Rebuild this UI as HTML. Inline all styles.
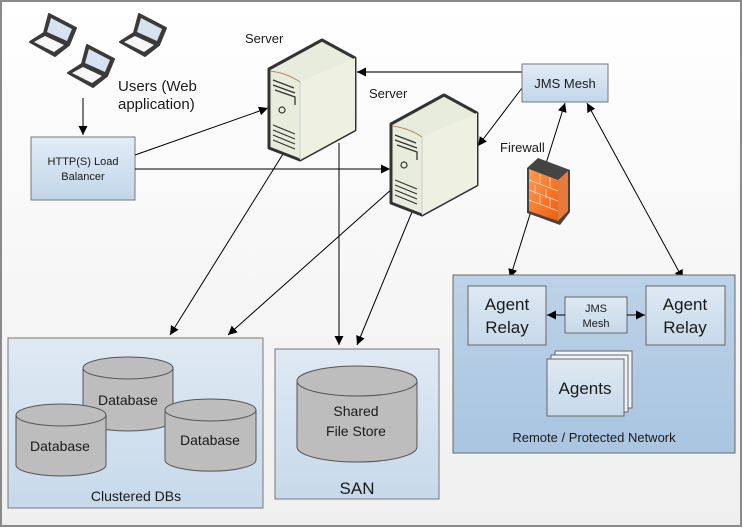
<!DOCTYPE html>
<html><head><meta charset="utf-8"><style>
html,body{margin:0;padding:0;background:#fff}
svg{display:block}
text{font-family:"Liberation Sans",sans-serif;fill:#1a1a1a}
</style></head><body>
<svg width="743" height="529" viewBox="0 0 743 529" xmlns="http://www.w3.org/2000/svg">
<defs>
<linearGradient id="bg" x1="0" y1="0" x2="0" y2="1"><stop offset="0" stop-color="#ffffff"/><stop offset="1" stop-color="#efefef"/></linearGradient>
<linearGradient id="box" x1="0" y1="0" x2="0" y2="1"><stop offset="0" stop-color="#dfe9f3"/><stop offset="1" stop-color="#c7d9ea"/></linearGradient>
<linearGradient id="lb" x1="0" y1="0" x2="0" y2="1"><stop offset="0" stop-color="#e2ecf6"/><stop offset="1" stop-color="#c2d6ea"/></linearGradient>
<linearGradient id="remote" x1="0" y1="0" x2="0" y2="1"><stop offset="0" stop-color="#bcd2e8"/><stop offset="1" stop-color="#a9c5e0"/></linearGradient>
<linearGradient id="fw" x1="0" y1="0" x2="1" y2="1"><stop offset="0" stop-color="#ff9a50"/><stop offset="1" stop-color="#ee5e10"/></linearGradient>
<marker id="a" viewBox="0 0 10 10" refX="10" refY="5" markerWidth="9" markerHeight="9" orient="auto-start-reverse" markerUnits="userSpaceOnUse"><path d="M0,0L10,5L0,10z" fill="#000"/></marker>
<g id="laptop">
<path d="M19,0 L46,14 L39,31 L14,19 Z" fill="#3a3a3a" stroke="#3a3a3a" stroke-width="2" stroke-linejoin="round"/>
<path d="M21,4 L42,15 L37,27 L17,18 Z" fill="#d6e2f0"/>
<path d="M0,28 L14,19 L39,31 L25,42 Z" fill="#3a3a3a" stroke="#3a3a3a" stroke-width="2" stroke-linejoin="round"/>
<path d="M4,28 L15,22 L34,31 L24,38 Z" fill="#f7f7f7"/>
</g>
<g id="server">
<path d="M0,29 L53,0 L86,18 L86,90 L31,120 L0,108 Z" fill="#e8ecdc" stroke="#333" stroke-width="3" stroke-linejoin="round"/>
<path d="M31,42 L86,18 L86,90 L31,120 Z" fill="#eef0e2"/>
<path d="M1,31 Q18,33 31,42" fill="none" stroke="#b08a60" stroke-width="1"/>
<path d="M31,42 L31,119" stroke="#ccc" stroke-width="1"/>
<path d="M4,40 L25,48 M4,45 L26,53 M6,50 L26,57 L26,65" fill="none" stroke="#333" stroke-width="1.3"/>
<circle cx="13" cy="70" r="3" fill="none" stroke="#333" stroke-width="1.2"/>
<path d="M4,85 L26,94 M4,90 L26,99 M4,95 L26,104 M4,100 L26,109" stroke="#333" stroke-width="1.2"/>
</g>
</defs>
<rect x="1" y="1" width="740" height="525" fill="url(#bg)" stroke="#8a8a8a" stroke-width="2"/>

<use href="#laptop" x="30" y="14"/>
<use href="#laptop" x="120" y="14"/>
<use href="#laptop" x="68" y="45"/>
<text x="118" y="91" font-size="15">Users (Web</text>
<text x="118" y="109" font-size="15">application)</text>
<line x1="83" y1="98" x2="83" y2="135" stroke="#000" marker-end="url(#a)"/>
<rect x="31" y="137" width="104" height="63" fill="url(#lb)" stroke="#777"/>
<text x="83" y="165" font-size="11" text-anchor="middle">HTTP(S) Load</text>
<text x="83" y="180" font-size="11" text-anchor="middle">Balancer</text>

<g stroke="#000" stroke-width="1" fill="none">
<line x1="135" y1="155" x2="268" y2="108" marker-end="url(#a)"/>
<line x1="135" y1="169" x2="390" y2="169" marker-end="url(#a)"/>
<line x1="522" y1="72" x2="357" y2="72" marker-end="url(#a)" stroke="#444" stroke-width="1.5"/>
<line x1="522" y1="88" x2="478" y2="146" marker-end="url(#a)"/>
<line x1="283" y1="154" x2="170" y2="335" marker-end="url(#a)"/>
<line x1="339" y1="143" x2="339" y2="345" marker-end="url(#a)"/>
<line x1="393" y1="188" x2="228" y2="335" marker-end="url(#a)"/>
<line x1="412" y1="212" x2="357" y2="345" marker-end="url(#a)"/>
<line x1="510" y1="278" x2="565" y2="103" marker-start="url(#a)" marker-end="url(#a)"/>
<line x1="683" y1="279" x2="587" y2="103" marker-start="url(#a)" marker-end="url(#a)"/>
</g>

<text x="245" y="43" font-size="13">Server</text>
<use href="#server" x="269" y="40"/>
<text x="369" y="98" font-size="13">Server</text>
<use href="#server" x="391" y="95"/>

<rect x="522" y="64" width="86" height="38" fill="url(#lb)" stroke="#777"/>
<text x="565" y="88" font-size="13" text-anchor="middle">JMS Mesh</text>

<text x="500" y="152" font-size="13">Firewall</text>
<g>
<path d="M527,168 L538,158 L570,170 L570,212 L560,225 L527,213 Z" fill="#444"/>
<path d="M529,169 L558,180 L558,221 L529,211 Z" fill="url(#fw)"/>
<path d="M558,180 L568,171 L568,211 L558,221 Z" fill="#e57a3a"/>
<path d="M529,180 L558,191 M529,190 L558,201 M529,200 L558,211 M540,174 L540,184 M550,177 L550,188 M535,185 L535,194 M546,189 L546,198 M540,195 L540,204 M550,198 L550,208" stroke="#ffd9bf" stroke-width="0.8"/>
</g>

<rect x="8" y="338" width="255" height="170" fill="url(#box)" stroke="#777"/>
<g fill="#bdbdbd" stroke="#555">
<path d="M83,368 L83,420 A45,11 0 0 0 173,420 L173,368 Z"/><ellipse cx="128" cy="368" rx="45" ry="11"/>
<path d="M165,410 L165,460 A45,11 0 0 0 256,460 L256,410 Z"/><ellipse cx="210.5" cy="410" rx="45.5" ry="11"/>
<path d="M16,415 L16,465 A45,11 0 0 0 106,465 L106,415 Z"/><ellipse cx="61" cy="415" rx="45" ry="11"/>
</g>
<text x="128" y="405" font-size="14" text-anchor="middle">Database</text>
<text x="210" y="445" font-size="14" text-anchor="middle">Database</text>
<text x="60" y="451" font-size="14" text-anchor="middle">Database</text>
<text x="136" y="501" font-size="14" text-anchor="middle">Clustered DBs</text>

<rect x="275" y="349" width="164" height="150" fill="url(#box)" stroke="#777"/>
<g fill="#bdbdbd" stroke="#555">
<path d="M297,381 L297,447 A60,15 0 0 0 417,447 L417,381 Z"/><ellipse cx="357" cy="381" rx="60" ry="15"/>
</g>
<text x="356" y="416" font-size="14" text-anchor="middle">Shared</text>
<text x="356" y="436" font-size="14" text-anchor="middle">File Store</text>
<text x="357" y="494" font-size="17" text-anchor="middle">SAN</text>

<rect x="453" y="275" width="282" height="178" fill="url(#remote)" stroke="#666"/>
<rect x="468" y="286" width="78" height="59" fill="url(#box)" stroke="#666"/>
<text x="507" y="310" font-size="17" text-anchor="middle">Agent</text>
<text x="507" y="333" font-size="17" text-anchor="middle">Relay</text>
<rect x="646" y="286" width="79" height="59" fill="url(#box)" stroke="#666"/>
<text x="685" y="310" font-size="17" text-anchor="middle">Agent</text>
<text x="685" y="333" font-size="17" text-anchor="middle">Relay</text>
<rect x="565" y="297" width="62" height="36" fill="url(#box)" stroke="#666"/>
<text x="596" y="312" font-size="11" text-anchor="middle">JMS</text>
<text x="596" y="327" font-size="11" text-anchor="middle">Mesh</text>
<line x1="565" y1="315" x2="547" y2="315" stroke="#000" marker-end="url(#a)"/>
<line x1="627" y1="315" x2="645" y2="315" stroke="#000" marker-end="url(#a)"/>
<rect x="555" y="351" width="77" height="57" fill="#f2f6fa" stroke="#666"/>
<rect x="551" y="355" width="77" height="57" fill="#eef3f8" stroke="#666"/>
<rect x="547" y="359" width="77" height="57" fill="url(#box)" stroke="#666"/>
<text x="585" y="394" font-size="17" text-anchor="middle">Agents</text>
<text x="594" y="442" font-size="13" text-anchor="middle">Remote / Protected Network</text>
</svg>
</body></html>
